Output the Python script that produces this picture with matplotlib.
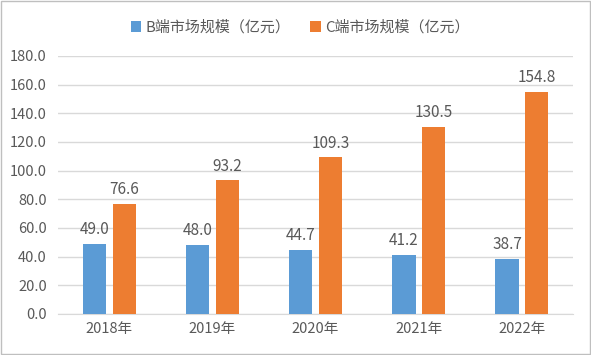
import numpy as np
import matplotlib
matplotlib.use('Agg')
import matplotlib.pyplot as plt
from matplotlib.patches import Rectangle

plt.rcParams['font.family'] = ['Noto Sans CJK SC', 'DejaVu Sans']

years = ['2018年', '2019年', '2020年', '2021年', '2022年']
b_market = [49.0, 48.0, 44.7, 41.2, 38.7]
c_market = [76.6, 93.2, 109.3, 130.5, 154.8]
labels = ['B端市场规模（亿元）', 'C端市场规模（亿元）']

text_color = '#595959'
fig = plt.figure(figsize=(5.91, 3.55), dpi=100)
ax = fig.add_axes([0.098, 0.1155, 0.872, 0.727])

x = np.arange(len(years))
w = 0.225
b1 = ax.bar(x - 0.143, b_market, w, color='#5B9BD5', label=labels[0], zorder=3)
b2 = ax.bar(x + 0.143, c_market, w, color='#ED7D31', label=labels[1], zorder=3)

for bars, vals in ((b1, b_market), (b2, c_market)):
    for r, v in zip(bars, vals):
        ax.text(r.get_x() + r.get_width() / 2, v + 4, f'{v:.1f}',
                ha='center', va='bottom', fontsize=11, color=text_color)

ax.set_xlim(-0.5, len(years) - 0.5)
ax.set_ylim(0, 180)
ax.set_yticks(np.arange(0, 181, 20))
ax.set_yticklabels([f'{t:.1f}' for t in np.arange(0, 181, 20)])
ax.set_xticks(x)
ax.set_xticklabels(years)
ax.tick_params(axis='both', length=0, labelsize=10.5, colors=text_color)
ax.tick_params(axis='x', pad=6)
ax.tick_params(axis='y', pad=8)
ax.grid(axis='y', color='#D9D9D9', linewidth=1, zorder=0)
for s in ('top', 'right', 'left'):
    ax.spines[s].set_visible(False)
ax.spines['bottom'].set_color('#D9D9D9')

ax.legend(loc='center', bbox_to_anchor=(0.47, 1.11), ncol=2, frameon=False,
          fontsize=10.8, handlelength=0.7, handleheight=0.7, columnspacing=1.3,
          handletextpad=0.3, labelcolor=text_color)

fig.patches.append(Rectangle((0.002, 0.003), 0.996, 0.994, transform=fig.transFigure,
                             fill=False, edgecolor='#BFBFBF', linewidth=1))

fig.savefig('out.png', dpi=100)
